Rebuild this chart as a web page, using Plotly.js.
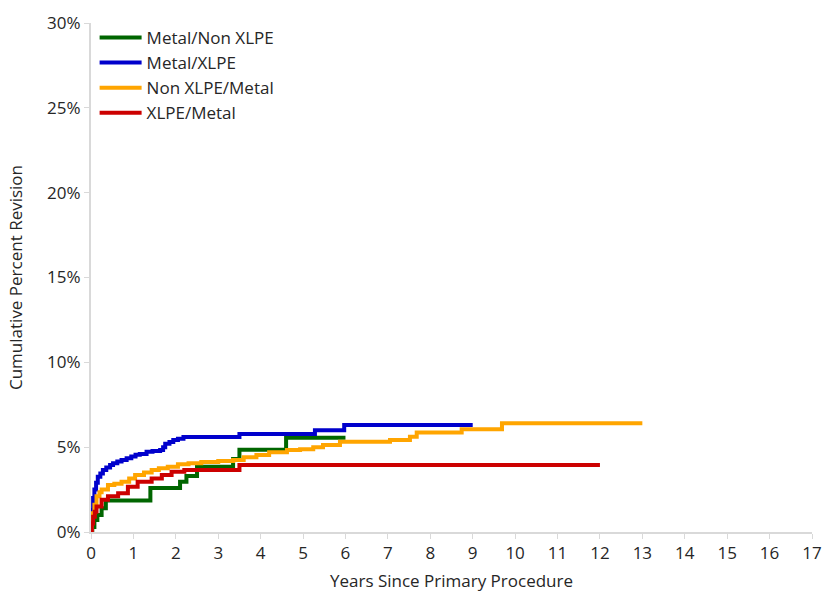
<!DOCTYPE html>
<html>
<head>
<meta charset="utf-8">
<script src="https://cdn.plot.ly/plotly-3.0.1.min.js"></script>
<style>html,body{margin:0;padding:0;background:#fff;}#chart{width:824px;height:594px;}</style>
</head>
<body>
<div id="chart"></div>
<script>
var seriesNames = ["Metal/Non XLPE", "Metal/XLPE", "Non XLPE/Metal", "XLPE/Metal"];

var greenX = [0, 0.03, 0.08, 0.15, 0.25, 0.35, 1.4, 2.1, 2.25, 2.5, 3.35, 3.5, 4.6, 6.0];
var greenY = [0, 0.3, 0.7, 1.0, 1.4, 1.85, 2.6, 2.96, 3.3, 3.85, 4.3, 4.85, 5.55, 5.55];

var blueX = [0, 0.01, 0.03, 0.05, 0.08, 0.12, 0.16, 0.22, 0.28, 0.36, 0.45, 0.52, 0.62, 0.72, 0.84, 0.95, 1.05, 1.15, 1.31, 1.45, 1.63, 1.7, 1.75, 1.85, 1.94, 2.05, 2.18, 3.5, 5.28, 5.97, 9.0];
var blueY = [0, 0.6, 1.3, 2.0, 2.5, 2.9, 3.25, 3.45, 3.65, 3.8, 3.95, 4.05, 4.15, 4.25, 4.34, 4.45, 4.55, 4.6, 4.73, 4.78, 4.83, 5.0, 5.2, 5.3, 5.42, 5.5, 5.6, 5.78, 6.0, 6.3, 6.3];

var orangeX = [0, 0.02, 0.04, 0.08, 0.13, 0.2, 0.25, 0.4, 0.55, 0.72, 0.9, 1.04, 1.25, 1.43, 1.6, 1.81, 2.05, 2.3, 2.6, 3.0, 3.35, 3.6, 3.9, 4.2, 4.62, 4.93, 5.24, 5.47, 5.87, 7.05, 7.52, 7.68, 8.74, 9.69, 13.0];
var orangeY = [0, 0.6, 1.1, 1.6, 2.1, 2.35, 2.5, 2.77, 2.85, 2.96, 3.15, 3.36, 3.5, 3.65, 3.75, 3.85, 4.0, 4.05, 4.12, 4.18, 4.24, 4.4, 4.54, 4.7, 4.83, 4.87, 4.99, 5.13, 5.32, 5.42, 5.62, 5.87, 6.05, 6.41, 6.41];

var redX = [0, 0.02, 0.05, 0.09, 0.13, 0.25, 0.4, 0.64, 0.87, 1.1, 1.43, 1.67, 1.9, 2.2, 3.5, 12.0];
var redY = [0, 0.5, 0.9, 1.2, 1.5, 1.9, 2.1, 2.28, 2.67, 2.96, 3.16, 3.36, 3.55, 3.65, 3.95, 3.95];

var colors = ["#006600", "#0000CC", "#FFA500", "#CC0000"];
var xs = [greenX, blueX, orangeX, redX];
var ys = [greenY, blueY, orangeY, redY];

var traces = seriesNames.map(function(n, i) {
  return {
    x: xs[i], y: ys[i], name: n, type: "scatter", mode: "lines",
    line: {shape: "hv", color: colors[i], width: 4}
  };
});

var fam = "Open Sans, Noto Sans, sans-serif";
var txt = "#262626";

var layout = {
  width: 824, height: 594,
  margin: {l: 91, r: 12, t: 23, b: 62},
  paper_bgcolor: "#fff", plot_bgcolor: "#fff",
  font: {family: fam, size: 17, color: txt},
  showlegend: true,
  legend: {x: 0.005, y: 1.006, xanchor: "left", yanchor: "top", bgcolor: "rgba(0,0,0,0)",
           itemwidth: 42,
           font: {family: fam, size: 17, color: txt}, tracegroupgap: 0},
  xaxis: {
    range: [0, 17], dtick: 1, tick0: 0, showgrid: false, zeroline: false,
    showline: true, linecolor: "#d9d9d9", linewidth: 2,
    ticks: "outside", ticklen: 5, tickcolor: "#d9d9d9", tickwidth: 1,
    tickfont: {family: fam, size: 17, color: txt},
    title: {text: "Years Since Primary Procedure", font: {family: fam, size: 17, color: txt}, standoff: 12}
  },
  yaxis: {
    range: [0, 30], dtick: 5, tick0: 0, showgrid: false, zeroline: false,
    ticksuffix: "%",
    showline: true, linecolor: "#d9d9d9", linewidth: 2,
    ticks: "outside", ticklen: 5, tickcolor: "#d9d9d9", tickwidth: 1,
    tickfont: {family: fam, size: 17, color: txt},
    title: {text: "Cumulative Percent Revision", font: {family: fam, size: 17, color: txt}, standoff: 20}
  }
};

Plotly.newPlot("chart", traces, layout, {displayModeBar: false, staticPlot: true});
</script>
</body>
</html>
